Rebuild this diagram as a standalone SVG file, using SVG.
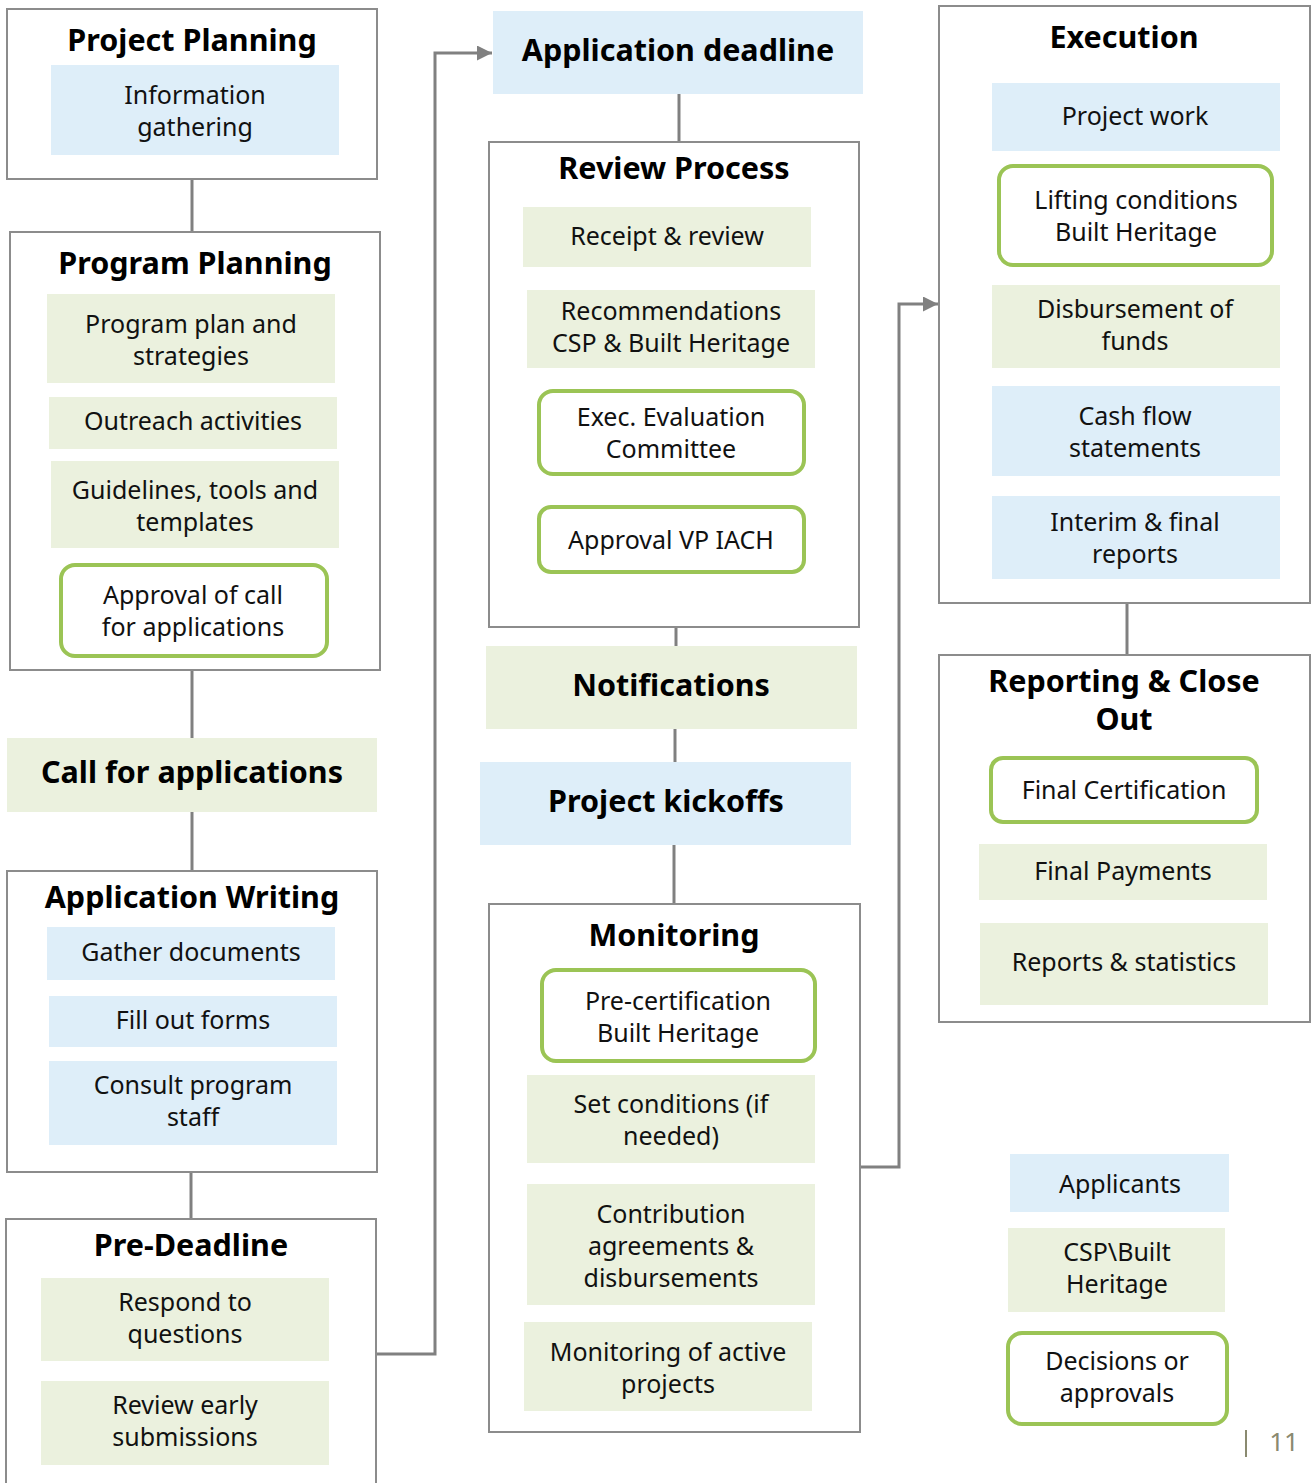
<svg xmlns="http://www.w3.org/2000/svg" width="1315" height="1483" viewBox="0 0 1315 1483">
<defs>
<style>
.frame{fill:#fff;stroke:#8c8c8c;stroke-width:2}
.blue{fill:#deeef9}
.green{fill:#ebf1de}
.dec{fill:#fff;stroke:#9bc455;stroke-width:4}
.t{font-family:"Noto Sans","Open Sans",sans-serif;font-size:25px;fill:#111;text-anchor:middle;dominant-baseline:central}
.h{font-family:"Noto Sans","Open Sans",sans-serif;font-size:30.5px;font-weight:bold;fill:#000;text-anchor:middle;dominant-baseline:central}
.c{fill:none;stroke:#808080;stroke-width:3}
</style>
<marker id="arr" viewBox="0 0 10 10" refX="10" refY="5" markerWidth="5" markerHeight="5" orient="auto" markerUnits="strokeWidth">
<path d="M0,0 L10,5 L0,10 z" fill="#808080"/>
</marker>
</defs>
<rect width="1315" height="1483" fill="#fff"/>

<g id="connectors">
<line class="c" x1="192" y1="179" x2="192" y2="232" stroke-width="2"/>
<line class="c" x1="192" y1="670" x2="192" y2="738" stroke-width="2"/>
<line class="c" x1="192" y1="812" x2="192" y2="871" stroke-width="2"/>
<line class="c" x1="191" y1="1172" x2="191" y2="1219" stroke-width="2"/>
<polyline class="c" points="376,1354 435,1354 435,53 492,53" marker-end="url(#arr)"/>
<line class="c" x1="679" y1="94" x2="679" y2="142" stroke-width="2"/>
<line class="c" x1="676" y1="627" x2="676" y2="646" stroke-width="2"/>
<line class="c" x1="675" y1="729" x2="675" y2="762" stroke-width="2"/>
<line class="c" x1="674" y1="845" x2="674" y2="904" stroke-width="2"/>
<polyline class="c" points="860,1167 899,1167 899,304 938,304" marker-end="url(#arr)"/>
<line class="c" x1="1127" y1="603" x2="1127" y2="655" stroke-width="2"/>
</g>

<g id="project-planning">
<rect class="frame" x="7" y="9" width="370" height="170"/>
<text class="h" x="192" y="39">Project Planning</text>
<rect class="blue" x="51" y="65" width="288" height="90"/>
<text class="t" x="195" y="94">Information</text>
<text class="t" x="195" y="126">gathering</text>
</g>

<g id="program-planning">
<rect class="frame" x="10" y="232" width="370" height="438"/>
<text class="h" x="195" y="262">Program Planning</text>
<rect class="green" x="47" y="294" width="288" height="89"/>
<text class="t" x="191" y="323">Program plan and</text>
<text class="t" x="191" y="355">strategies</text>
<rect class="green" x="49" y="397" width="288" height="52"/>
<text class="t" x="193" y="420">Outreach activities</text>
<rect class="green" x="51" y="461" width="288" height="87"/>
<text class="t" x="195" y="489">Guidelines, tools and</text>
<text class="t" x="195" y="521">templates</text>
<rect class="dec" x="61" y="565" width="266" height="91" rx="14"/>
<text class="t" x="193" y="594">Approval of call</text>
<text class="t" x="193" y="626">for applications</text>
</g>

<g id="call-for-applications">
<rect class="green" x="7" y="738" width="370" height="74"/>
<text class="h" x="192" y="771">Call for applications</text>
</g>

<g id="application-writing">
<rect class="frame" x="7" y="871" width="370" height="301"/>
<text class="h" x="192" y="896">Application Writing</text>
<rect class="blue" x="47" y="927" width="288" height="53"/>
<text class="t" x="191" y="951">Gather documents</text>
<rect class="blue" x="49" y="996" width="288" height="51"/>
<text class="t" x="193" y="1019">Fill out forms</text>
<rect class="blue" x="49" y="1061" width="288" height="84"/>
<text class="t" x="193" y="1084">Consult program</text>
<text class="t" x="193" y="1116">staff</text>
</g>

<g id="pre-deadline">
<rect class="frame" x="6" y="1219" width="370" height="280"/>
<text class="h" x="191" y="1244">Pre-Deadline</text>
<rect class="green" x="41" y="1278" width="288" height="83"/>
<text class="t" x="185" y="1301">Respond to</text>
<text class="t" x="185" y="1333">questions</text>
<rect class="green" x="41" y="1381" width="288" height="84"/>
<text class="t" x="185" y="1404">Review early</text>
<text class="t" x="185" y="1436">submissions</text>
</g>

<g id="application-deadline">
<rect class="blue" x="493" y="11" width="370" height="83"/>
<text class="h" x="678" y="49">Application deadline</text>
</g>

<g id="review-process">
<rect class="frame" x="489" y="142" width="370" height="485"/>
<text class="h" x="674" y="167">Review Process</text>
<rect class="green" x="523" y="207" width="288" height="60"/>
<text class="t" x="667" y="235">Receipt &amp; review</text>
<rect class="green" x="527" y="290" width="288" height="78"/>
<text class="t" x="671" y="310">Recommendations</text>
<text class="t" x="671" y="342">CSP &amp; Built Heritage</text>
<rect class="dec" x="539" y="391" width="265" height="83" rx="14"/>
<text class="t" x="671" y="416">Exec. Evaluation</text>
<text class="t" x="671" y="448">Committee</text>
<rect class="dec" x="539" y="507" width="265" height="65" rx="12"/>
<text class="t" x="671" y="539">Approval VP IACH</text>
</g>

<g id="notifications">
<rect class="green" x="486" y="646" width="371" height="83"/>
<text class="h" x="671" y="684">Notifications</text>
</g>

<g id="project-kickoffs">
<rect class="blue" x="480" y="762" width="371" height="83"/>
<text class="h" x="666" y="800">Project kickoffs</text>
</g>

<g id="monitoring">
<rect class="frame" x="489" y="904" width="371" height="528"/>
<text class="h" x="674" y="934">Monitoring</text>
<rect class="dec" x="542" y="970" width="273" height="91" rx="14"/>
<text class="t" x="678" y="1000">Pre-certification</text>
<text class="t" x="678" y="1032">Built Heritage</text>
<rect class="green" x="527" y="1075" width="288" height="88"/>
<text class="t" x="671" y="1103">Set conditions (if</text>
<text class="t" x="671" y="1135">needed)</text>
<rect class="green" x="527" y="1184" width="288" height="121"/>
<text class="t" x="671" y="1213">Contribution</text>
<text class="t" x="671" y="1245">agreements &amp;</text>
<text class="t" x="671" y="1277">disbursements</text>
<rect class="green" x="524" y="1322" width="288" height="89"/>
<text class="t" x="668" y="1351">Monitoring of active</text>
<text class="t" x="668" y="1383">projects</text>
</g>

<g id="execution">
<rect class="frame" x="939" y="6" width="371" height="597"/>
<text class="h" x="1124" y="36">Execution</text>
<rect class="blue" x="992" y="83" width="288" height="68"/>
<text class="t" x="1135" y="115">Project work</text>
<rect class="dec" x="999" y="166" width="273" height="99" rx="14"/>
<text class="t" x="1136" y="199">Lifting conditions</text>
<text class="t" x="1136" y="231">Built Heritage</text>
<rect class="green" x="992" y="285" width="288" height="83"/>
<text class="t" x="1135" y="308">Disbursement of</text>
<text class="t" x="1135" y="340">funds</text>
<rect class="blue" x="992" y="386" width="288" height="90"/>
<text class="t" x="1135" y="415">Cash flow</text>
<text class="t" x="1135" y="447">statements</text>
<rect class="blue" x="992" y="496" width="288" height="83"/>
<text class="t" x="1135" y="521">Interim &amp; final</text>
<text class="t" x="1135" y="553">reports</text>
</g>

<g id="reporting-close-out">
<rect class="frame" x="939" y="655" width="371" height="367"/>
<text class="h" x="1124" y="680">Reporting &amp; Close</text>
<text class="h" x="1124" y="718">Out</text>
<rect class="dec" x="991" y="758" width="266" height="64" rx="12"/>
<text class="t" x="1124" y="789">Final Certification</text>
<rect class="green" x="979" y="844" width="288" height="56"/>
<text class="t" x="1123" y="870">Final Payments</text>
<rect class="green" x="980" y="923" width="288" height="82"/>
<text class="t" x="1124" y="961">Reports &amp; statistics</text>
</g>

<g id="legend-applicants">
<rect class="blue" x="1010" y="1154" width="219" height="58"/>
<text class="t" x="1120" y="1183">Applicants</text>
</g>
<g id="legend-csp">
<rect class="green" x="1008" y="1228" width="217" height="84"/>
<text class="t" x="1117" y="1251">CSP\Built</text>
<text class="t" x="1117" y="1283">Heritage</text>
</g>
<g id="legend-decisions">
<rect class="dec" x="1008" y="1333" width="219" height="91" rx="14"/>
<text class="t" x="1117" y="1360">Decisions or</text>
<text class="t" x="1117" y="1392">approvals</text>
</g>

<g id="page-number">
<line x1="1246" y1="1430" x2="1246" y2="1457" stroke="#8a8a70" stroke-width="2"/>
<text x="1284" y="1441" font-family="'Noto Sans','Open Sans',sans-serif" font-size="26" fill="#8a8a70" text-anchor="middle" dominant-baseline="central">11</text>
</g>
</svg>
